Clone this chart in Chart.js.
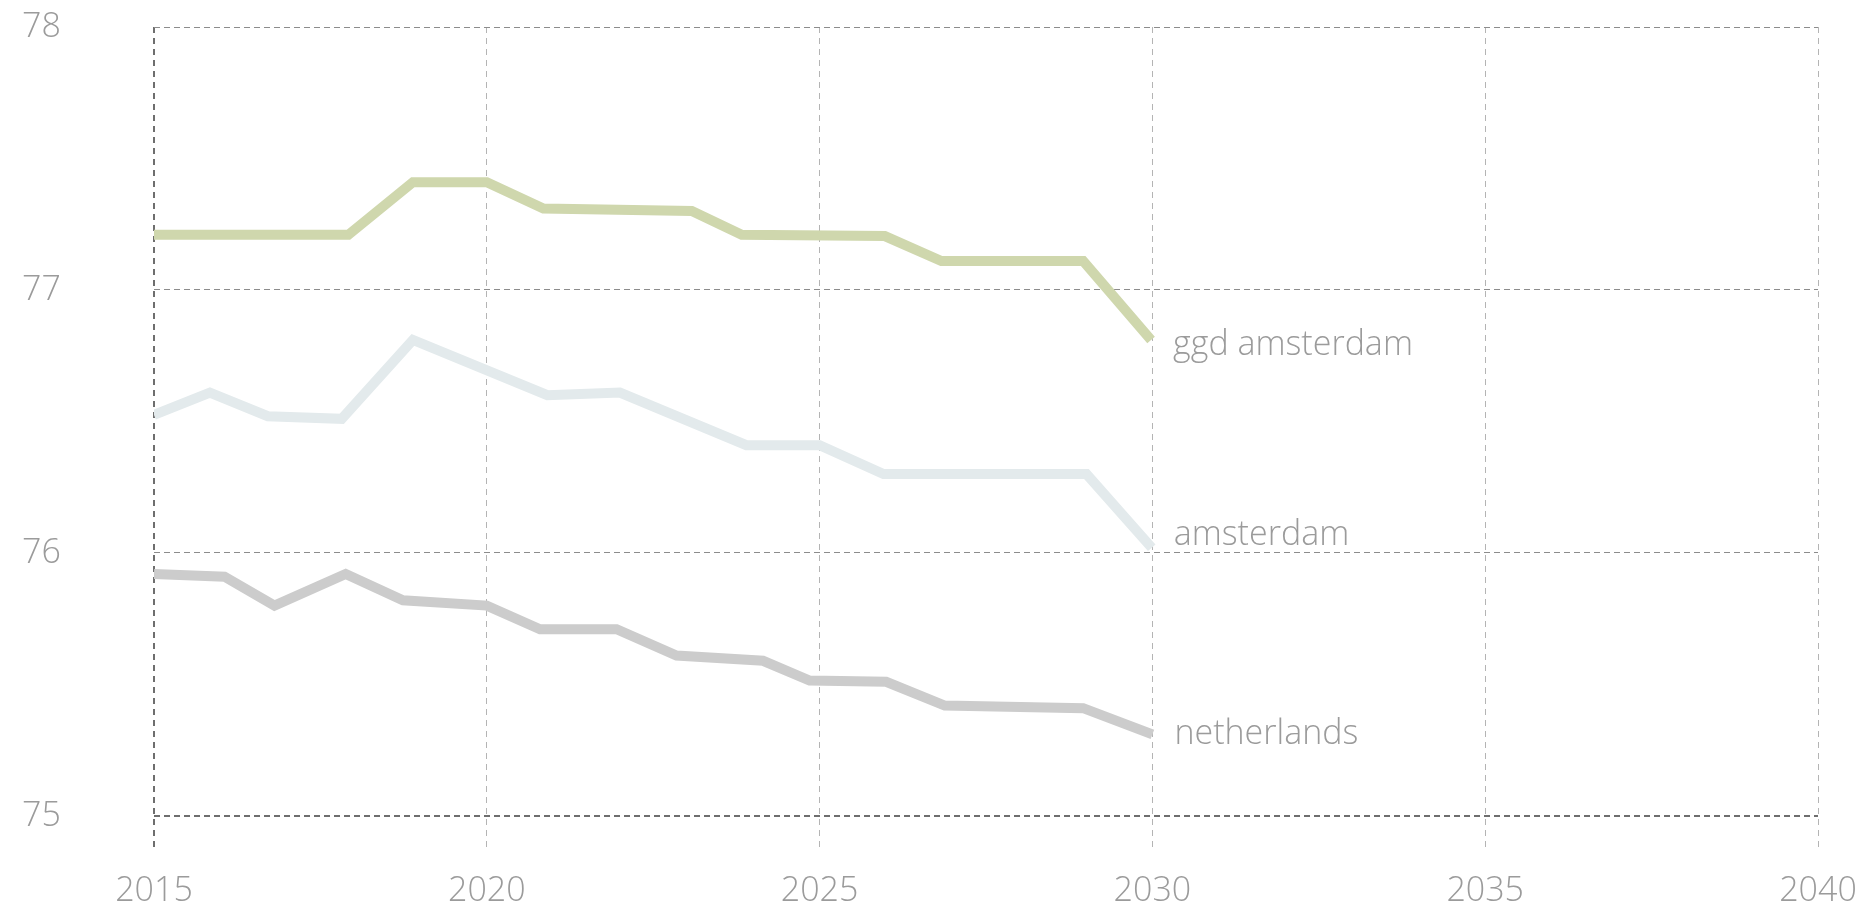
<!DOCTYPE html>
<html>
<head>
<meta charset="utf-8">
<script src="https://cdn.jsdelivr.net/npm/chart.js@4/dist/chart.umd.min.js"></script>
<style>
  body { margin: 0; background: #fff; }
</style>
</head>
<body>
<canvas id="myChart" width="1865" height="913"></canvas>
<script>
// series labels
const seriesNames = ["ggd amsterdam", "amsterdam", "netherlands"];

// ggd amsterdam
const ggdYears = [2015, 2017.92, 2018.89, 2020, 2020.85, 2023.08, 2023.83, 2025.98, 2026.83, 2028.96, 2029.98];
const ggdValues = [77.21, 77.21, 77.41, 77.41, 77.31, 77.3, 77.21, 77.205, 77.11, 77.11, 76.81];

// amsterdam
const amsYears = [2015, 2015.84, 2016.71, 2017.82, 2018.89, 2020.91, 2022.0, 2023.9, 2025.0, 2025.96, 2029.01, 2029.99];
const amsValues = [76.525, 76.61, 76.52, 76.51, 76.81, 76.6, 76.61, 76.41, 76.41, 76.3, 76.3, 76.02];

// netherlands
const nlYears = [2015, 2016.06, 2016.81, 2017.88, 2018.74, 2020.0, 2020.8, 2021.95, 2022.85, 2024.15, 2024.85, 2026.0, 2026.88, 2028.96, 2030];
const nlValues = [75.92, 75.91, 75.8, 75.92, 75.82, 75.8, 75.71, 75.71, 75.61, 75.59, 75.515, 75.51, 75.42, 75.41, 75.31];

// axis ticks
const yearTicks = [2015, 2020, 2025, 2030, 2035, 2040];
const valueTicks = [75, 76, 77, 78];

const colors = ["#cfd7ad", "#e3eaec", "#cccccc"];
const textColor = "#9b9b9b";
const fontFamily = "'Open Sans', 'Noto Sans', sans-serif";

function toPoints(xs, ys) {
  return xs.map((x, i) => ({ x: x, y: ys[i] }));
}

// end-of-line labels, placed next to the last point of each line
const endLabels = {
  id: "endLabels",
  afterDatasetsDraw: (chart) => {
    const { ctx } = chart;
    const dy = [15, -3, 10];
    ctx.save();
    ctx.font = "300 34px " + fontFamily;
    ctx.fillStyle = textColor;
    ctx.textAlign = "left";
    ctx.textBaseline = "alphabetic";
    chart.data.datasets.forEach((ds, i) => {
      const meta = chart.getDatasetMeta(i);
      const last = meta.data[meta.data.length - 1];
      ctx.fillText(ds.label, last.x + 22, last.y + dy[i]);
    });
    ctx.restore();
  },
};

const ctx = document.getElementById("myChart");

new Chart(ctx, {
  type: "line",
  data: {
    datasets: [
      { label: seriesNames[0], data: toPoints(ggdYears, ggdValues), borderColor: colors[0] },
      { label: seriesNames[1], data: toPoints(amsYears, amsValues), borderColor: colors[1] },
      { label: seriesNames[2], data: toPoints(nlYears, nlValues), borderColor: colors[2] },
    ],
  },
  options: {
    responsive: false,
    animation: false,
    devicePixelRatio: 1,
    layout: {
      padding: { left: 22, top: 27, right: 47, bottom: 0 },
    },
    elements: {
      line: {
        borderWidth: 10,
        tension: 0,
        borderJoinStyle: "miter",
        borderCapStyle: "butt",
      },
      point: { radius: 0, hoverRadius: 0 },
    },
    plugins: {
      legend: { display: false },
      tooltip: { enabled: false },
    },
    scales: {
      x: {
        type: "linear",
        min: 2015,
        max: 2040,
        afterBuildTicks: (scale) => {
          scale.ticks = yearTicks.map((v) => ({ value: v }));
        },
        afterFit: (scale) => {
          scale.height = 61;
          scale.paddingLeft = 0;
          scale.paddingRight = 0;
        },
        border: { display: false, dash: [6, 5] },
        grid: {
          drawTicks: false,
          color: (c) => (c.index === 0 ? "#6e6e6e" : "#b4b4b4"),
          lineWidth: (c) => (c.index === 0 ? 2 : 1),
        },
        ticks: {
          padding: 19,
          color: textColor,
          font: { family: fontFamily, size: 34, weight: 300 },
          maxRotation: 0,
          callback: (v) => String(v),
        },
      },
      y: {
        min: 74.863,
        max: 78,
        afterBuildTicks: (scale) => {
          scale.ticks = valueTicks.map((v) => ({ value: v }));
        },
        afterFit: (scale) => {
          scale.width = 132;
        },
        border: { display: false, dash: [6, 4] },
        grid: {
          drawTicks: false,
          color: (c) => (c.tick && c.tick.value === 75 ? "#6e6e6e" : "#8c8c8c"),
          lineWidth: (c) => (c.tick && c.tick.value === 75 ? 2 : 1),
        },
        ticks: {
          crossAlign: "far",
          color: textColor,
          font: { family: fontFamily, size: 34, weight: 300 },
          callback: (v) => String(v),
        },
      },
    },
  },
  plugins: [endLabels],
});
</script>
</body>
</html>
